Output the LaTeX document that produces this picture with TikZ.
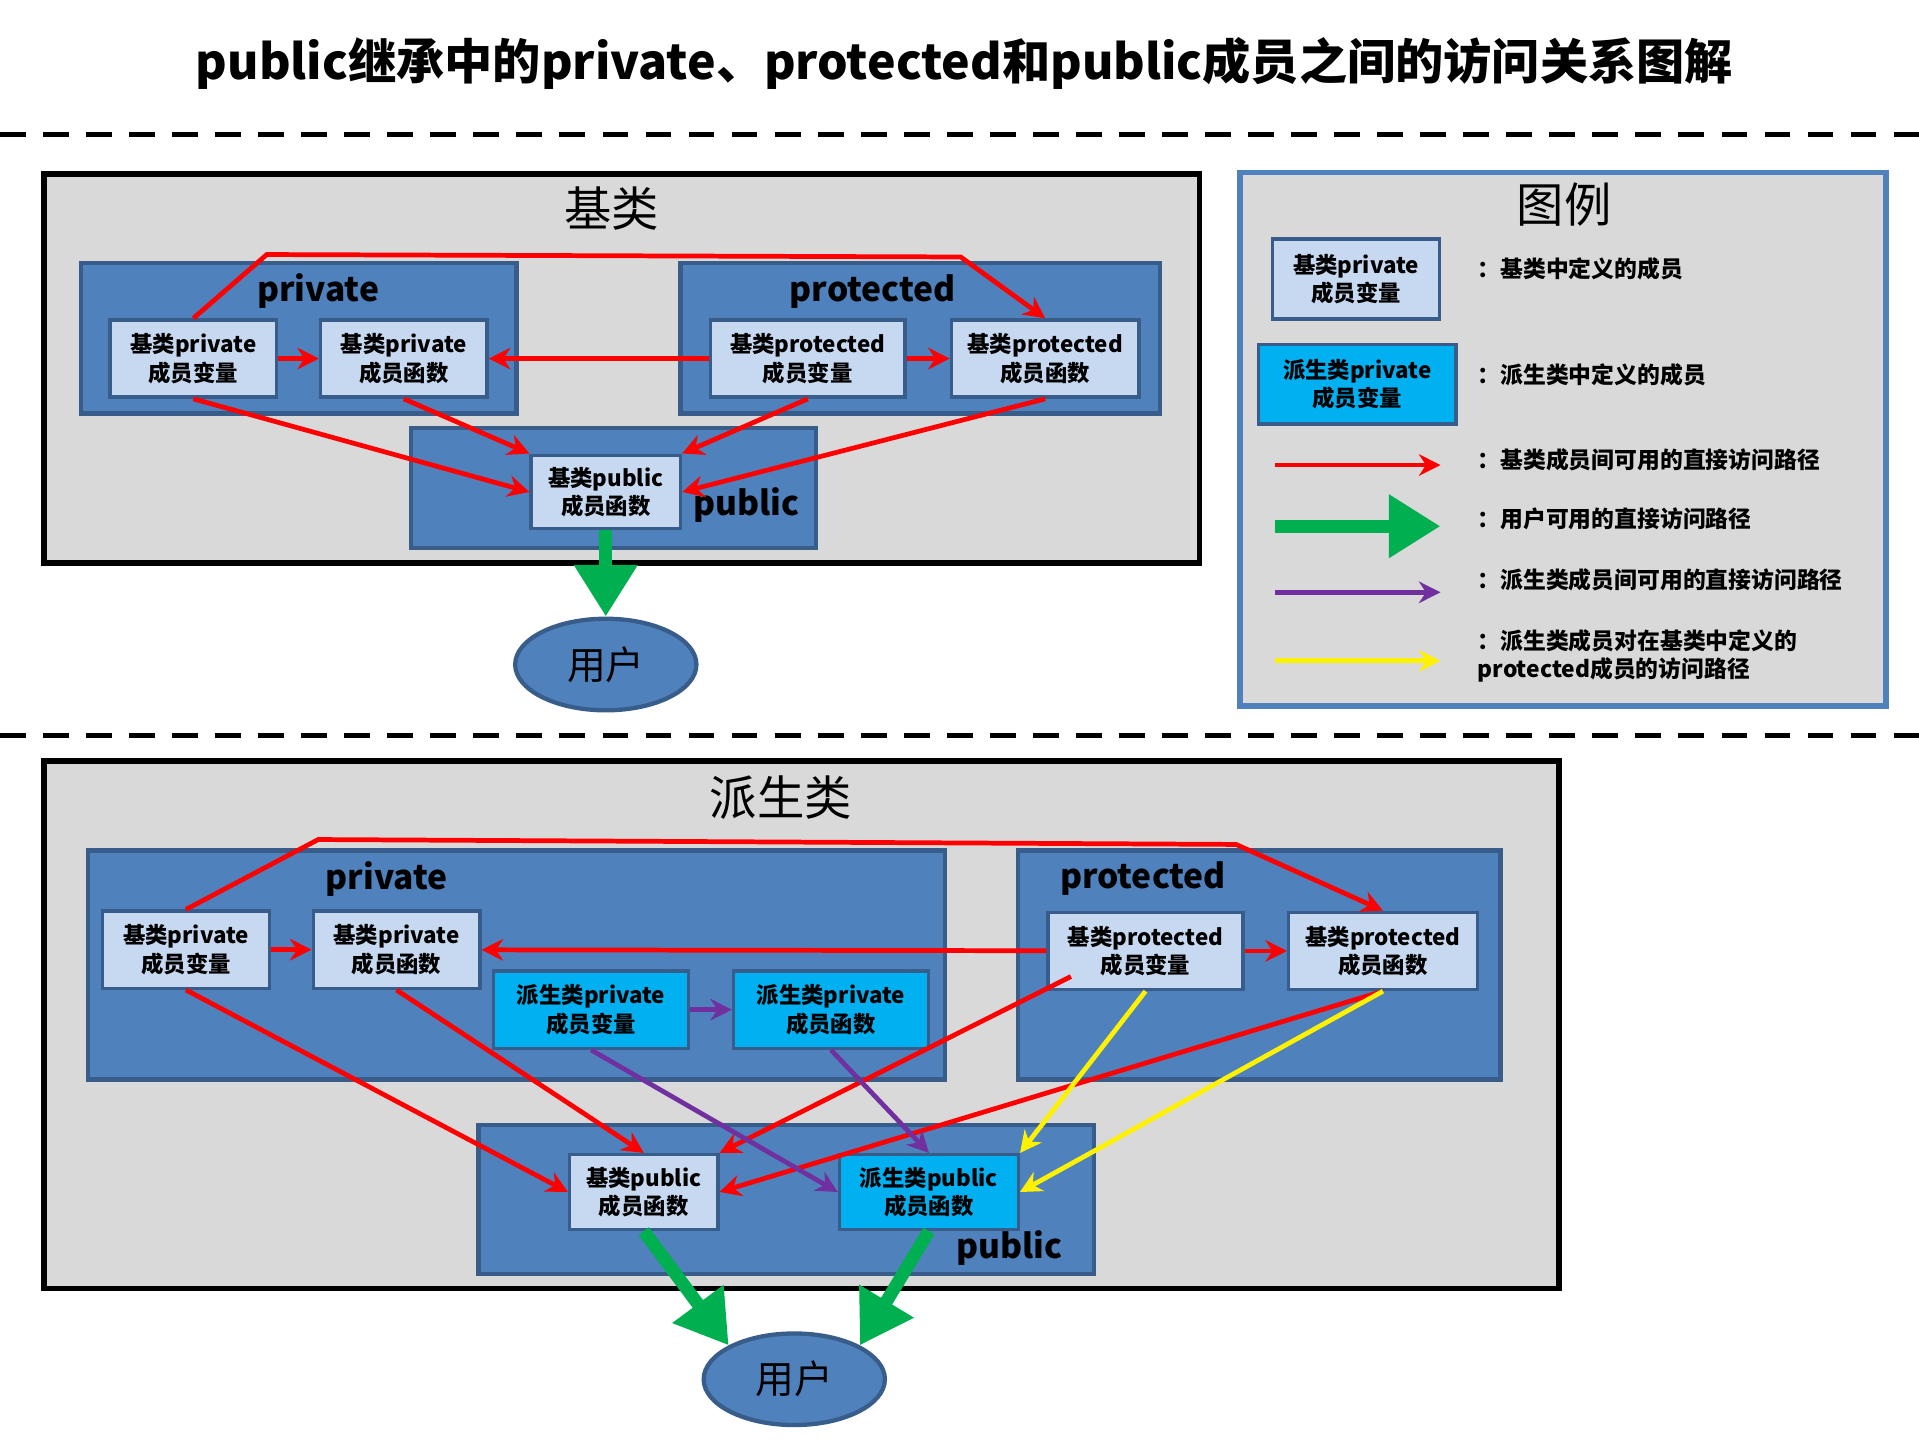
\documentclass[tikz,border=0pt]{standalone}
\usepackage{fontspec}
\setmainfont{Noto Sans CJK SC}
\usepackage{tikz}
\usetikzlibrary{arrows.meta,positioning,shapes.geometric}
\definecolor{panel}{HTML}{D9D9D9}
\definecolor{blk}{HTML}{4F81BD}
\definecolor{blkd}{HTML}{385D8A}
\definecolor{lblue}{HTML}{C6D9F1}
\definecolor{cyanb}{HTML}{00B0F0}
\definecolor{purp}{HTML}{7030A0}
\definecolor{grn}{HTML}{00B050}

\begin{document}
\begin{tikzpicture}[x=0.01cm,y=-0.01cm,font=\bfseries]
    \tikzset{
      base/.style={draw=blkd,line width=0.8pt,fill=lblue,minimum width=1.36cm,minimum height=0.63cm,inner sep=0pt,align=center,font=\bfseries\fontsize{5.2}{6.6}\selectfont},
      derived/.style={base,fill=cyanb},
      grp/.style={draw=blkd,line width=1pt,fill=blk},
      red/.style={draw=red,line width=1.1pt,-{Stealth[length=5pt,width=5pt]}},
      prp/.style={draw=purp,line width=1.1pt,-{Stealth[length=5pt,width=5pt]}},
      yel/.style={draw=yellow,line width=1.1pt,-{Stealth[length=5pt,width=5pt]}},
      grnarr/.style={draw=grn,line width=3pt,-{Triangle[length=12pt,width=14pt]}},
      user/.style={ellipse,draw=blkd,line width=1pt,fill=blk,minimum width=1.48cm,minimum height=0.74cm,font=\fontsize{9}{10}\selectfont},
      grptxt/.style={font=\bfseries\fontsize{7.8}{9}\selectfont},
      leg/.style={anchor=west,font=\bfseries\fontsize{5.3}{6.6}\selectfont,align=left}
    }
    \useasboundingbox (0,0) rectangle (1568,1177);
    \node[font=\bfseries\fontsize{11.2}{14}\selectfont] (title) at (788,52) {public继承中的private、protected和public成员之间的访问关系图解};
    \draw[dashed,line width=1.2pt,dash pattern=on 6pt off 4pt] (0,110) -- (1568,110);
    \draw[dashed,line width=1.2pt,dash pattern=on 6pt off 4pt] (0,601) -- (1568,601);

    % base class
    \draw[fill=panel,line width=1.3pt] (36,142) rectangle (980,460);
    \node[font=\fontsize{11}{12}\selectfont] (baset) at (500,170) {基类};
    \draw[grp] (66,215) rectangle (422,338);
    \draw[grp] (556,215) rectangle (948,338);
    \draw[grp] (336,350) rectangle (667,448);
    \node[grptxt] at (260,238) {private};
    \node[grptxt] at (713,238) {protected};
    \node[grptxt] at (610,413) {public};
    \node[base] (a1) at (158,293) {基类private\\成员变量};
    \node[base] (a2) at (330,293) {基类private\\成员函数};
    \node[base,minimum width=1.59cm] (b1) at (660,293) {基类protected\\成员变量};
    \node[base,minimum width=1.53cm] (b2) at (854,293) {基类protected\\成员函数};
    \node[base,minimum width=1.22cm,minimum height=0.6cm] (p) at (495,402) {基类public\\成员函数};
    \node[user] (u1) at (495,543) {用户};
    \path[red] (a1) -- (a2);
    \path[red] (b1) -- (a2);
    \path[red] (b1) -- (b2);
    \path[red] (a1.north) -- (218,208) -- (785,210) -- (b2.north);
    \path[red] (a1.south) -- (p.west);
    \path[red] (a2.south) -- (p.north west);
    \path[red] (b1.south) -- (p.north east);
    \path[red] (b2.south) -- (p.east);
    \path[grnarr] (p) -- (u1);

    % legend
    \draw[fill=panel,draw=blk,line width=1.3pt] (1013,141) rectangle (1541,577);
    \node[font=\fontsize{11}{12}\selectfont] (legt) at (1278,167) {图例};
    \node[base,minimum height=0.65cm] (l1) at (1108,228) {基类private\\成员变量};
    \node[derived,minimum width=1.61cm,minimum height=0.65cm] (l2) at (1109,314) {派生类private\\成员变量};
    \node[leg] at (1195,220) {：基类中定义的成员};
    \node[leg] at (1195,306) {：派生类中定义的成员};
    \coordinate (r0) at (1042,380); \coordinate (r1) at (1177,380);
    \coordinate (g0) at (1042,430); \coordinate (g1) at (1177,430);
    \coordinate (v0) at (1042,484); \coordinate (v1) at (1177,484);
    \coordinate (y0) at (1042,540); \coordinate (y1) at (1177,540);
    \path[red] (r0) -- (r1);
    \path[grnarr] (g0) -- (g1);
    \path[prp] (v0) -- (v1);
    \path[yel] (y0) -- (y1);
    \node[leg] at (1195,376) {：基类成员间可用的直接访问路径};
    \node[leg] at (1195,424) {：用户可用的直接访问路径};
    \node[leg] at (1195,474) {：派生类成员间可用的直接访问路径};
    \node[leg] at (1195,536) {：派生类成员对在基类中定义的\\protected成员的访问路径};

    % derived class
    \draw[fill=panel,line width=1.3pt] (36,622) rectangle (1274,1053);
    \node[font=\fontsize{11}{12}\selectfont] (dert) at (638,652) {派生类};
    \draw[grp] (72,695) rectangle (772,882);
    \draw[grp] (832,695) rectangle (1226,882);
    \draw[grp] (391,919) rectangle (894,1041);
    \node[grptxt] at (316,718) {private};
    \node[grptxt] at (934,718) {protected};
    \node[grptxt] at (825,1020) {public};
    \node[base] (c1) at (152,776) {基类private\\成员变量};
    \node[base] (c2) at (324,776) {基类private\\成员函数};
    \node[derived,minimum width=1.59cm] (d1) at (483,825) {派生类private\\成员变量};
    \node[derived,minimum width=1.59cm] (d2) at (679,825) {派生类private\\成员函数};
    \node[base,minimum width=1.59cm] (e1) at (936,777) {基类protected\\成员变量};
    \node[base,minimum width=1.54cm] (e2) at (1130,777) {基类protected\\成员函数};
    \node[base,minimum width=1.21cm,minimum height=0.61cm] (q1) at (526,974) {基类public\\成员函数};
    \node[derived,minimum width=1.46cm,minimum height=0.61cm] (q2) at (759,974) {派生类public\\成员函数};
    \node[user] (u2) at (649,1127) {用户};
    \path[red] (c1) -- (c2);
    \path[red] (e1) -- (c2);
    \path[red] (e1) -- (e2);
    \path[red] (c1.north) -- (260,686) -- (1010,690) -- (e2.north);
    \path[red] (c1.south) -- (q1.west);
    \path[red] (c2.south) -- (q1.north);
    \path[red] (e1.south west) ++(20,-12) -- (q1.north east);
    \path[red] (e2.south) -- (q1.east);
    \path[prp] (d1) -- (d2);
    \path[prp] (d1.south) -- (q2.west);
    \path[prp] (d2.south) -- (q2.north);
    \path[yel] (e1.south) -- (q2.north east);
    \path[yel] (e2.south) -- (q2.east);
    \path[grnarr] (q1.south) -- (u2.north west);
    \path[grnarr] (q2.south) -- (u2.north east);
\end{tikzpicture}
\end{document}
